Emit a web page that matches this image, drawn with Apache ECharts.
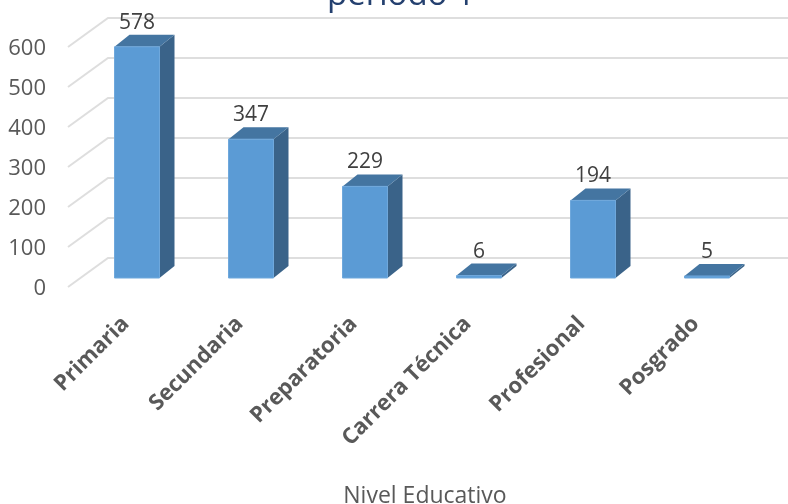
<!DOCTYPE html>
<html><head><meta charset="utf-8">
<style>html,body{margin:0;padding:0;background:#fff}#c{width:788px;height:504px}</style>
<script src="https://cdn.jsdelivr.net/npm/echarts@6/dist/echarts.min.js"></script>
</head><body><div id="c"></div>
<script>
const categories = ['Primaria','Secundaria','Preparatoria','Carrera Técnica','Profesional','Posgrado'];
const values = [578,347,229,6,194,5];
const yTicks = [0,100,200,300,400,500,600];
const FONT = '"Open Sans", sans-serif';
const DEPTH_X = 15, DEPTH_Y = -12, FLOOR_Y = -9, BAR_W = 45;
const WALL_X = 40, WALL_Y = -29, LEFT_OUT = 12;
const chart = echarts.init(document.getElementById('c'), null, {renderer:'canvas'});
chart.setOption({
  animation:false,
  backgroundColor:'#fff',
  title:{text:'período 1',left:327,top:-21,padding:0,textStyle:{color:'#24406F',fontSize:33,fontWeight:'normal',fontFamily:FONT}},
  grid:{left:80,right:24,top:47,bottom:217,outerBoundsMode:'none',containLabel:false},
  xAxis:{type:'category',data:categories,name:'Nivel Educativo',nameLocation:'middle',nameGap:198,
    nameTextStyle:{color:'#595959',fontSize:23,fontFamily:FONT,padding:[0,0,0,6]},
    axisLine:{show:false},axisTick:{show:false},
    axisLabel:{rotate:45,interval:0,margin:22,padding:[0,16,0,0],color:'#595959',fontSize:22,fontWeight:'bold',fontFamily:FONT}},
  yAxis:{type:'value',min:0,max:600,interval:100,
    axisLine:{show:false},axisTick:{show:false},splitLine:{show:false},
    axisLabel:{margin:34,verticalAlign:'top',lineHeight:4,color:'#595959',fontSize:22,fontFamily:FONT}},
  series:[
    {type:'custom',z:1,silent:true,clip:false,coordinateSystem:'cartesian2d',
      data:yTicks.map(v=>[0,v]),encode:{x:0,y:1},
      renderItem(params,api){
        const y=api.coord([0,api.value(1)])[1], L=params.coordSys.x, R=L+params.coordSys.width;
        return {type:'polyline',shape:{points:[[L-LEFT_OUT,y],[L-LEFT_OUT+WALL_X,y+WALL_Y],[R+24,y+WALL_Y]]},
          style:{fill:null,stroke:'#DEDEDE',lineWidth:2}};
      }},
    {type:'custom',z:2,clip:false,coordinateSystem:'cartesian2d',
      data:values.map((v,i)=>[i,v]),encode:{x:0,y:1},
      label:{show:false},
      renderItem(params,api){
        const c0=api.coord([api.value(0),0]), c1=api.coord([api.value(0),api.value(1)]);
        const l=c0[0]-BAR_W/2, r=l+BAR_W, b=c0[1]+FLOOR_Y, t=c1[1]+FLOOR_Y;
        const dx=DEPTH_X, dy=DEPTH_Y;
        return {type:'group',children:[
          {type:'polygon',shape:{points:[[r,b],[r+dx,b+dy],[r+dx,t+dy],[r,t]]},style:{fill:'#3A6389'}},
          {type:'polygon',shape:{points:[[l,t],[r,t],[r+dx,t+dy],[l+dx,t+dy]]},style:{fill:'#4475A1'}},
          {type:'rect',shape:{x:l,y:t,width:BAR_W,height:b-t},style:{fill:'#5B9BD5',stroke:'#6FA8DC',lineWidth:1}},
          {type:'text',x:(l+r)/2,y:t-24,style:{text:String(api.value(1)),align:'center',verticalAlign:'middle',fill:'#404040',fontSize:21,fontFamily:FONT}}
        ]};
      }}
  ]
});
</script></body></html>
